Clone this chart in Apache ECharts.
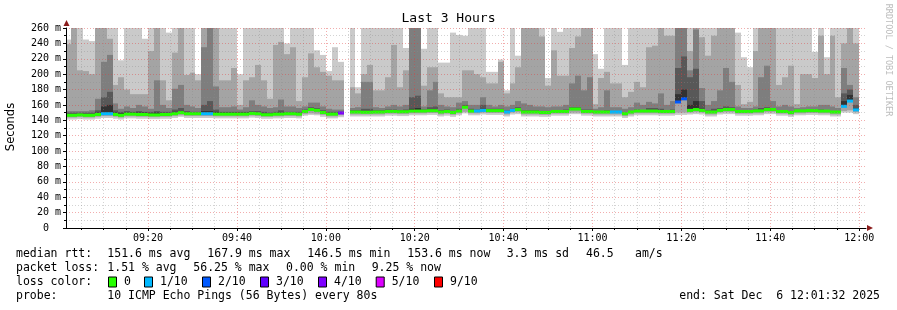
<!DOCTYPE html>
<html><head><meta charset="utf-8">
<script src="https://cdn.jsdelivr.net/npm/echarts@6/dist/echarts.min.js"></script>
<style>html,body{margin:0;padding:0;background:#fff}#c{width:897px;height:310px}</style>
</head><body><div id="c"></div>
<script>
// ---- time axis: minutes since 09:00 ----
const X_MIN = 1 + 32/60;          // 09:01:32
const X_MAX = 181 + 32/60;        // 12:01:32
const STEP = 80/60;               // 80 s per probe round
const SLOT0 = 80/60;              // first slot starts 09:01:20
const MAJOR_TICKS = [20,40,60,80,100,120,140,160,180];
const MINOR_TICKS = [5,10,15,25,30,35,45,50,55,65,70,75,85,90,95,105,110,115,125,130,135,145,150,155,165,170,175];

// ---- values (ms) per 80 s slot ----
const medianRtt = [146.5,146.5,147,146.5,146.5,147.6,148.6,148.6,147.6,146.5,
 148,148,147.6,147.6,147,147,147.6,147.6,148.6,150,
 148.6,148.6,148.6,148.6,148.6,148,148,148,148,148,
 148,149,148.6,147.3,147.3,148,148,148.6,148.6,148,
 151.5,154,153,150.2,148,148,149.5,null,150.8,150.8,
 150.5,150.5,150.8,150.8,151.5,151.5,151.2,151.2,152,152,
 152,152.5,152.5,150.8,151.5,150.2,152,157,152,152,
 152.9,152.6,152.6,152.6,150.8,152.9,154,150.8,150.8,150.8,
 150.2,150.2,151.5,151.5,151.5,154.6,154.6,151.5,151.5,150.8,
 150.8,150.8,150.8,150.8,148.6,150.8,152,152,152,152,
 151.5,151.5,151.5,163.8,167.9,152.9,154,152.9,150.8,150.8,
 152.9,154,154,151.5,151.5,151.5,152.2,152.2,154,154,
 151.5,151.5,150.2,152.2,152.2,152.6,152.6,152,152,150.8,
 150.8,158.2,165,153.6];
const lossTenths = [0,0,0,0,0,0,1,1,0,0, 0,0,0,0,0,0,0,0,0,0, 0,0,0,1,1,0,0,0,0,0,
 0,0,0,0,0,0,0,0,0,0, 0,0,0,0,0,0,4,null,0,0, 0,0,0,0,0,0,0,0,0,0,
 0,0,0,0,0,0,0,0,0,1, 1,0,0,0,1,1,0,0,0,0, 0,0,0,0,0,0,0,0,0,0,
 0,0,1,1,0,0,0,0,0,0, 0,0,0,2,2,0,0,0,0,0, 0,0,0,0,0,0,0,0,0,0,
 0,0,0,0,0,0,0,0,0,0, 0,1,1,1];
const ping1 = [141,141,141.5,141,141,142,143,143,142,141,
 142.5,142.5,142,142,141.5,141.5,142,142,143,144.5,
 143,143,143,143,143,142.5,142.5,142.5,142.5,142.5,
 142.5,143.5,143,142,142,142.5,142.5,143,143,142.5,
 146,147,146.5,144.5,142.5,142.5,144,null,145,145,
 145,145,145,145,146,146,145.5,145.5,146.5,146.5,
 146.5,147,147,145,146,144.5,146.5,149,146.5,146.5,
 147.5,147,147,147,145,147.5,148,145,145,145,
 144.5,144.5,146,146,146,148,148,146,146,145,
 145,145,145,145,143,145,146.5,146.5,146.5,146.5,
 146,146,146,147,147,147.5,148,147.5,145,145,
 147.5,148,148,146,146,146,146.5,146.5,148,148,
 146,146,144.5,146.5,146.5,147,147,146.5,146.5,145,
 145,150,150,148];
const ping2 = [143.5,143.5,144,143.5,143.5,144.5,145.5,145.5,144.5,143.5,
 145,145,144.5,144.5,144,144,144.5,144.5,145.5,146.5,
 145.5,145.5,145.5,145.5,145.5,145,145,145,145,145,
 145,146,145.5,144.5,144.5,145,145,145.5,145.5,145,
 148,149,148.5,147,145,145,146.5,null,147.5,147.5,
 147.5,147.5,147.5,147.5,148.5,148.5,148,148,149,149,
 149,149.5,149.5,147.5,148.5,147,149,151,149,149,
 150,149.5,149.5,149.5,147.5,150,150.5,147.5,147.5,147.5,
 147,147,148.5,148.5,148.5,150,150,148.5,148.5,147.5,
 147.5,147.5,147.5,147.5,145.5,147.5,149,149,149,149,
 148.5,148.5,148.5,150,150,150,150.5,150,147.5,147.5,
 150,150.5,150.5,148.5,148.5,148.5,149,149,150.5,150.5,
 148.5,148.5,147,149,149,149.5,149.5,149,149,147.5,
 147.5,152,153,150.5];
const ping6 = [148,148,148,148,148,150,158,160,150,149,
 150,150,150,150,149,150,149,149,151,152,
 150,150,150,152,152,151,150,150,150,150,
 150,150,150,149,149,149,150,150,150,149,
 153,155,154,151,149,149,150,null,152,152,
 152,152,152,152,153,153,152,152,155,156,
 153,154,154,152,153,151,153,158,153,153,
 155,154,154,154,152,154,155,152,152,152,
 151,151,152,152,153,156,156,153,153,151,
 151,152,151,151,149,151,153,153,153,153,
 153,152,152,174,180,160,165,155,152,152,
 154,155,155,152,152,152,153,153,155,155,
 152,152,151,153,153,153,153,153,153,151,
 151,165,173,156];
const ping7 = [150,150,150,150,150,153,170,177,153,151,
 152,151,152,151,151,152,151,151,154,156,
 152,151,151,160,165,154,151,151,151,151,
 151,152,152,151,150,151,153,151,151,151,
 154,157,156,153,151,151,151,null,153,153,
 155,155,153,153,154,154,153,154,170,172,
 154,157,158,153,154,152,155,160,155,154,
 160,155,155,155,153,155,157,153,153,153,
 152,152,153,153,154,157,157,154,154,152,
 152,153,152,152,150,152,154,153,156,156,
 155,153,154,208,223,196,207,165,153,155,
 156,158,157,153,153,153,154,156,157,156,
 153,153,152,153,153,154,154,154,153,152,
 152,175,180,160];
const ping8 = [152,152,152,152,153,168,216,225,162,155,
 158,156,160,158,155,192,160,156,181,186,
 160,158,156,235,300,184,157,157,158,154,
 157,166,160,158,156,157,167,158,158,156,
 158,163,163,158,155,154,154,null,156,157,
 190,190,157,156,158,160,158,160,300,300,
 158,179,190,160,158,157,163,165,160,160,
 170,160,158,160,158,160,165,162,160,158,
 158,157,158,158,160,188,198,179,196,155,
 157,179,157,157,155,157,163,160,164,162,
 175,160,165,300,300,205,258,182,160,165,
 179,208,190,158,156,156,158,196,211,165,
 158,160,158,156,157,158,158,160,160,158,
 156,208,186,170];
const ping9 = [239,300,205,204,200,300,300,246,186,196,
 180,174,174,174,230,300,192,166,228,300,
 199,202,192,300,300,300,192,192,208,160,
 192,196,212,192,168,238,242,226,235,165,
 196,227,209,203,198,192,192,null,183,175,
 200,212,179,179,196,238,183,205,300,300,
 185,209,209,175,170,170,170,205,205,200,
 196,188,188,216,175,188,209,300,300,300,
 249,185,231,198,198,234,249,300,300,161,
 195,203,188,188,170,177,190,183,235,237,
 300,250,250,300,300,230,300,248,224,250,
 300,300,300,186,161,164,230,300,300,300,
 186,196,211,161,200,200,195,250,200,250,
 170,240,300,240];
const ping10 = [245,300,300,245,243,300,300,300,300,218,
 300,300,300,246,300,300,300,254,300,300,
 300,300,200,300,300,300,300,300,300,200,
 300,300,300,300,300,300,300,240,300,300,
 300,300,231,225,204,235,216,null,300,183,
 300,300,300,300,300,300,300,234,300,300,
 233,300,300,215,215,254,251,250,300,300,
 300,203,203,219,179,300,224,300,300,300,
 300,195,300,255,300,300,300,300,300,226,
 207,300,300,300,212,300,300,300,300,300,
 300,300,300,300,300,300,300,300,300,300,
 300,300,300,254,222,209,300,300,300,300,
 300,300,300,300,300,300,229,300,222,300,
 300,300,300,300];

const LOSS_COLORS = {0:'#26ff00',1:'#00b8ff',2:'#0059ff',3:'#5e00ff',4:'#7e00ff',5:'#dd00ff',9:'#ff0000'};
const SMOKE = ['#cacaca','#a4a4a4','#7e7e7e','#585858','#323232'];
const MAJOR_GRID = 'rgba(225,60,60,0.42)';
const MINOR_GRID = 'rgba(140,140,140,0.38)';
const MONO = '"DejaVu Sans Mono", monospace';

const slots = medianRtt.map((m, i) => [SLOT0 + i*STEP, SLOT0 + (i+1)*STEP, m]);

function fmtTime(v){
  const h = 9 + Math.floor(v/60), m = Math.round(v % 60);
  return String(h).padStart(2,'0') + ':' + String(m).padStart(2,'0');
}

function renderItem(params, api){
  const i = params.dataIndex;
  if (medianRtt[i] == null) return;
  const cs = params.coordSys;
  const clipBox = {x: cs.x, y: cs.y, width: cs.width, height: cs.height};
  const t0 = api.value(0), t1 = api.value(1);
  const children = [];
  function band(lo, hi, color){
    if (hi <= lo) return;
    const a = api.coord([t0, hi]), b = api.coord([t1, lo]);
    const x0 = Math.round(a[0]), x1 = Math.round(b[0]);
    const r = echarts.graphic.clipRectByRect({x:x0, y:a[1], width:x1-x0, height:b[1]-a[1]}, clipBox);
    if (r) children.push({type:'rect', shape:r, style:{fill:color}});
  }
  const m = medianRtt[i];
  band(ping1[i], ping10[i], SMOKE[0]);
  band(ping2[i], ping9[i], SMOKE[1]);
  band(m, ping8[i], SMOKE[2]);
  band(m, ping7[i], SMOKE[3]);
  band(m - 1, ping6[i], SMOKE[4]);
  // median band coloured by loss
  const a = api.coord([t0, m]), b = api.coord([t1, m]);
  const x0 = Math.round(a[0]), x1 = Math.round(b[0]);
  const r = echarts.graphic.clipRectByRect({x:x0, y:a[1]-1.5, width:x1-x0, height:3}, clipBox);
  if (r) children.push({type:'rect', shape:r, style:{fill: LOSS_COLORS[lossTenths[i]] || '#26ff00'}});
  return {type:'group', children};
}

const chart = echarts.init(document.getElementById('c'), null, {renderer:'canvas'});

function txt(text, x, y, opts){
  return {type:'text', x, y, style:Object.assign({text, fill:'#000', font:'11.5px ' + MONO, textVerticalAlign:'middle'}, opts || {})};
}

const legendItems = [['0',124,0],['1/10',160,1],['2/10',218,2],['3/10',276,3],['4/10',334,4],['5/10',391.7,5],['9/10',450,9]];
const graphics = [
  {type:'text', left:'center', top:12, style:{text:'Last 3 Hours', fill:'#000', font:'13px ' + MONO}},
  {type:'text', x:11, y:127, rotation:Math.PI/2, style:{text:'Seconds', fill:'#000', font:'11.5px "DejaVu Sans", sans-serif', textAlign:'center', textVerticalAlign:'middle'}},
  {type:'text', x:888, y:60, rotation:-Math.PI/2, style:{text:'RRDTOOL / TOBI OETIKER', fill:'#bdbdbd', font:'8.5px ' + MONO, textAlign:'center', textVerticalAlign:'middle'}},
  {type:'polygon', shape:{points:[[63.5,26],[69.5,26],[66.5,20]]}, style:{fill:'#8b1c1c'}},
  {type:'polygon', shape:{points:[[867,225],[867,231],[873,228]]}, style:{fill:'#8b1c1c'}},
  txt('median rtt:', 16, 254.5), txt('151.6 ms avg', 107.3, 254.5), txt('167.9 ms max', 207.3, 254.5),
  txt('146.5 ms min', 307.3, 254.5), txt('153.6 ms now', 407.3, 254.5), txt('3.3 ms sd', 506.7, 254.5),
  txt('46.5', 586, 254.5), txt('am/s', 635, 254.5),
  txt('packet loss:', 16, 268.5), txt('1.51 % avg', 107.3, 268.5), txt('56.25 % max', 193.3, 268.5),
  txt('0.00 % min', 286, 268.5), txt('9.25 % now', 371.7, 268.5),
  txt('loss color:', 16, 282),
  txt('probe:', 16, 296.5), txt('10 ICMP Echo Pings (56 Bytes) every 80s', 107.3, 296.5),
  txt('end: Sat Dec  6 12:01:32 2025', 880, 296.5, {textAlign:'right'})
];
legendItems.forEach(([label, x, k]) => {
  graphics.push({type:'rect', shape:{x:x-15.5, y:277, width:8, height:10}, style:{fill:LOSS_COLORS[k], stroke:'#000', lineWidth:1}});
  graphics.push(txt(label, x, 282));
});

chart.setOption({
  animation:false,
  backgroundColor:'#fff',
  grid:{left:66, top:28, width:800, height:200, containLabel:false},
  xAxis:[
    {type:'value', min:X_MIN, max:X_MAX, position:'bottom', z:5,
     axisLine:{show:true, onZero:false, lineStyle:{color:'#000', width:1}},
     axisTick:{show:true, customValues:MAJOR_TICKS, length:3, lineStyle:{color:'#000'}},
     axisLabel:{customValues:MAJOR_TICKS, formatter:fmtTime, fontFamily:MONO, fontSize:10, color:'#000', margin:5},
     splitLine:{show:true, lineStyle:{color:MAJOR_GRID, type:[1,2], width:1}}},
    {type:'value', min:X_MIN, max:X_MAX, position:'bottom', z:4,
     axisLine:{show:false},
     axisTick:{show:true, customValues:MINOR_TICKS, length:2, lineStyle:{color:'#000'}},
     axisLabel:{show:false, customValues:MINOR_TICKS},
     splitLine:{show:true, lineStyle:{color:MINOR_GRID, type:[1,2], width:1}}}
  ],
  yAxis:{type:'value', min:0, max:260, interval:20, z:5,
    axisLine:{show:true, lineStyle:{color:'#000'}},
    axisTick:{show:true, length:3, lineStyle:{color:'#000'}},
    minorTick:{show:true, splitNumber:2, length:2, lineStyle:{color:'#000'}},
    axisLabel:{formatter:v => v === 0 ? '0  ' : v + ' m', fontFamily:MONO, fontSize:10, color:'#000', margin:5},
    splitLine:{show:true, lineStyle:{color:MAJOR_GRID, type:[1,2], width:1}},
    minorSplitLine:{show:true, lineStyle:{color:MINOR_GRID, type:[1,2], width:1}}},
  series:[{
    type:'custom', xAxisIndex:0, yAxisIndex:0, z:1,
    renderItem, data:slots, encode:{x:[0,1], y:2}
  }],
  graphic:graphics
});
</script></body></html>
